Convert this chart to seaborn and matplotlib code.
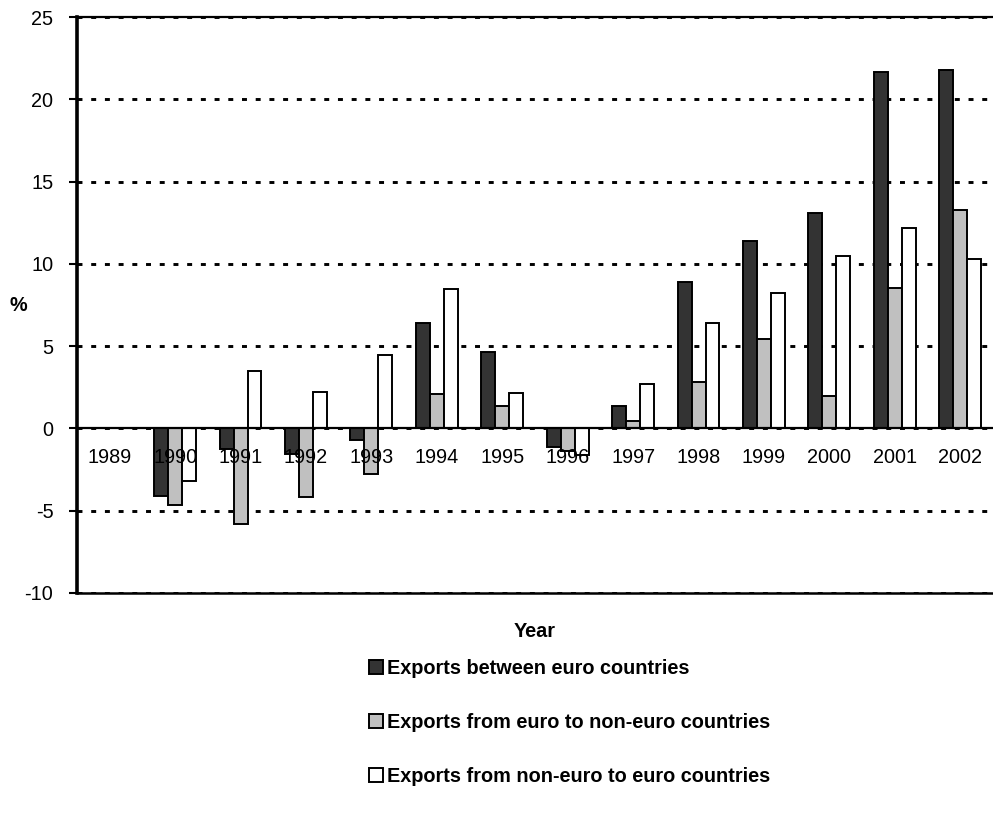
import numpy as np
import pandas as pd
import matplotlib
matplotlib.use('Agg')
import matplotlib.pyplot as plt
import seaborn as sns
from matplotlib.ticker import FixedLocator

sns.set_style('white')
plt.rcParams['font.family'] = ['Liberation Sans', 'DejaVu Sans']
plt.rcParams['axes.unicode_minus'] = False
plt.rcParams['text.color'] = 'black'
plt.rcParams['axes.labelcolor'] = 'black'
plt.rcParams['xtick.color'] = 'black'
plt.rcParams['ytick.color'] = 'black'

# 数据
years = [str(y) for y in range(1989, 2003)]
between_euro = [np.nan, -4.1, -1.25, -1.55, -0.7, 6.4, 4.65, -1.1, 1.35, 8.9, 11.4, 13.1, 21.65, 21.75]
euro_to_non = [np.nan, -4.65, -5.8, -4.15, -2.75, 2.1, 1.35, -1.35, 0.45, 2.85, 5.45, 2.0, 8.55, 13.3]
non_to_euro = [np.nan, -3.2, 3.5, 2.2, 4.45, 8.45, 2.15, -1.6, 2.7, 6.4, 8.2, 10.45, 12.15, 10.3]

series_names = ['Exports between euro countries',
                'Exports from euro to non-euro countries',
                'Exports from non-euro to euro countries']
colors = ['#333333', '#c0c0c0', '#ffffff']

df = pd.DataFrame({
    'Year': years * 3,
    'Value': between_euro + euro_to_non + non_to_euro,
    'Series': [s for s in series_names for _ in years],
})

fig = plt.figure(figsize=(9.93, 8.14), dpi=100)
ax = fig.add_axes([0.0775, 0.2715, 0.9225, 0.7076])

sns.barplot(data=df, x='Year', y='Value', hue='Series', order=years,
            hue_order=series_names, palette=colors, width=0.64,
            errorbar=None, edgecolor='black', linewidth=1.4, ax=ax,
            legend=True, zorder=3)

ax.set_xlim(-0.5, 13.5)
ax.set_ylim(-10, 25)
ax.set_yticks(range(-10, 26, 5))

# 网格线
ax.yaxis.grid(True, color='black', linestyle=(0, (1.7, 3.0)), linewidth=2.1, zorder=1)
ax.xaxis.grid(False)

# 坐标轴
ax.spines['right'].set_visible(False)
ax.spines['left'].set_linewidth(2.6)
ax.spines['left'].set_color('black')
ax.spines['top'].set_linewidth(1.6)
ax.spines['top'].set_color('black')
ax.spines['bottom'].set_position(('data', 0))
ax.spines['bottom'].set_linewidth(1.6)
ax.spines['bottom'].set_color('black')
ax.spines['bottom'].set_zorder(4)
ax.axhline(-10, color='black', linewidth=1.8, zorder=4, clip_on=False)
ax.xaxis.set_zorder(5)

ax.xaxis.set_minor_locator(FixedLocator(np.arange(-0.5, 14, 1.0)))
ax.tick_params(axis='x', which='major', length=0, pad=14, labelsize=14.3, labelcolor='black')
ax.tick_params(axis='x', which='minor', length=4, width=1.5, color='black', direction='out')
ax.tick_params(axis='y', which='major', length=6, width=1.5, color='black', direction='out',
               pad=11, labelsize=14.3, left=True, labelcolor='black')

ax.set_xlabel('Year', fontsize=14.3, fontweight='bold', labelpad=0, color='black')
ax.xaxis.set_label_coords(0.5, -0.05)
ax.set_ylabel('%', fontsize=14.3, fontweight='bold', rotation=0, va='center', ha='center',
              color='black')
ax.yaxis.set_label_coords(-0.064, 0.5)

# 图例
handles, labels = ax.get_legend_handles_labels()
ax.get_legend().remove()
leg = fig.legend(handles, labels, loc='upper left', bbox_to_anchor=(0.372, 0.191),
                 frameon=False, prop={'size': 14.3, 'weight': 'bold'},
                 handlelength=0.7, handleheight=0.7, handletextpad=0.2,
                 labelspacing=1.78, borderpad=0, borderaxespad=0)
for t in leg.get_texts():
    t.set_color('black')

fig.savefig('out.png', dpi=100)
